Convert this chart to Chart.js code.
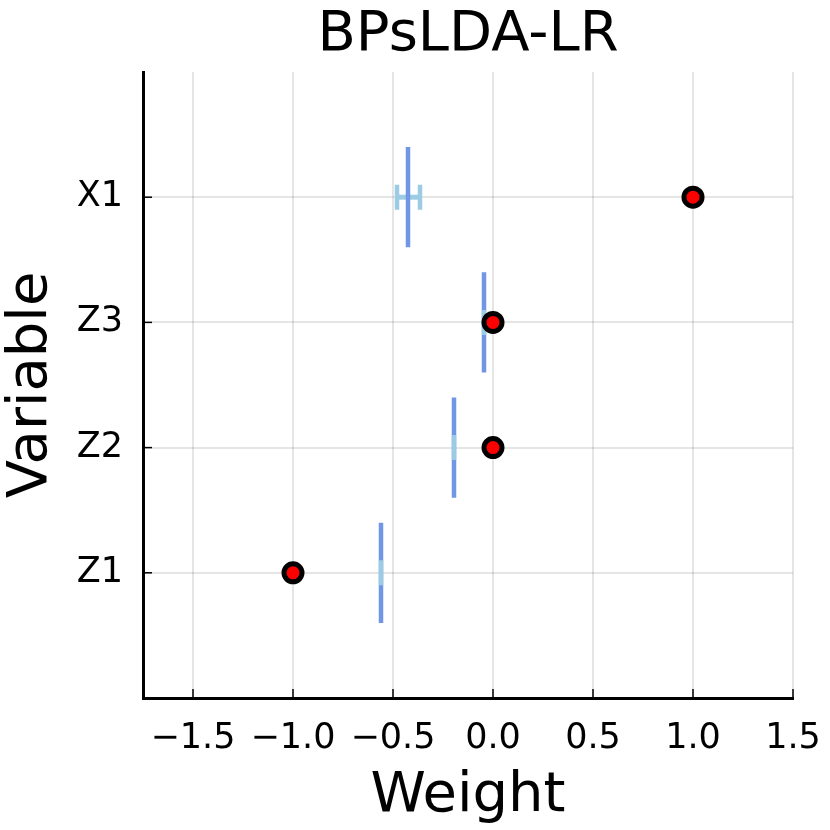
<!DOCTYPE html>
<html lang="en">
<head>
<meta charset="UTF-8">
<title>BPsLDA-LR</title>
<script src="https://cdn.jsdelivr.net/npm/chart.js@4"></script>
<style>
  html, body { margin: 0; padding: 0; background: #fff; }
  canvas { display: block; }
</style>
</head>
<body>
<canvas id="weights" width="830" height="830"></canvas>
<script>
// variables, bottom to top
const categories = ['Z1', 'Z2', 'Z3', 'X1'];
// true weights (red dots)
const trueWeight = [-1.0, 0.0, 0.0, 1.0];
// estimated weights and their interval
const estWeight = [-0.56, -0.195, -0.045, -0.425];
const estLow = [-0.56, -0.195, -0.045, -0.48];
const estHigh = [-0.56, -0.195, -0.045, -0.365];
const xTicks = [-1.5, -1.0, -0.5, 0.0, 0.5, 1.0, 1.5];

const FONT = 'DejaVu Sans';
const LINE_HALF = 0.4;   // half height of the estimate bar, in category units
const CAP_HALF = 0.1;    // half height of the interval caps
const gap = { x: null, y: null };

const estLines = categories.flatMap((c, i) => [
    { x: estWeight[i], y: i + 1 - LINE_HALF },
    { x: estWeight[i], y: i + 1 + LINE_HALF },
    gap
]);
const intervalBars = categories.flatMap((c, i) => [
    { x: estLow[i], y: i + 1 },
    { x: estHigh[i], y: i + 1 },
    gap
]);
const intervalCaps = categories.flatMap((c, i) => [
    { x: estLow[i], y: i + 1 - CAP_HALF },
    { x: estLow[i], y: i + 1 + CAP_HALF },
    gap,
    { x: estHigh[i], y: i + 1 - CAP_HALF },
    { x: estHigh[i], y: i + 1 + CAP_HALF },
    gap
]);
const truePoints = categories.map((c, i) => ({ x: trueWeight[i], y: i + 1 }));

function fmt(v) {
    return (v < 0 ? '\u2212' : '') + Math.abs(v).toFixed(1);
}

// small black ticks pointing into the plot
const inwardTicks = {
    id: 'inwardTicks',
    afterDraw(chart) {
        const ctx = chart.ctx;
        const area = chart.chartArea;
        ctx.save();
        ctx.strokeStyle = '#000';
        ctx.lineWidth = 1.5;
        chart.scales.x.ticks.forEach(t => {
            const px = chart.scales.x.getPixelForValue(t.value);
            ctx.beginPath();
            ctx.moveTo(px, area.bottom);
            ctx.lineTo(px, area.bottom - 9);
            ctx.stroke();
        });
        chart.scales.y.ticks.forEach(t => {
            const py = chart.scales.y.getPixelForValue(t.value);
            ctx.beginPath();
            ctx.moveTo(area.left, py);
            ctx.lineTo(area.left + 9, py);
            ctx.stroke();
        });
        ctx.restore();
    }
};

new Chart(document.getElementById('weights'), {
    type: 'scatter',
    data: {
        datasets: [
            {
                label: 'true',
                data: truePoints,
                pointRadius: 9,
                pointBorderWidth: 5,
                pointBackgroundColor: '#ff0000',
                pointBorderColor: '#000000'
            },
            {
                label: 'caps',
                data: intervalCaps,
                showLine: true,
                pointRadius: 0,
                borderWidth: 4.5,
                borderColor: 'rgb(155,204,228)',
                borderCapStyle: 'butt'
            },
            {
                label: 'estimate',
                data: estLines,
                showLine: true,
                pointRadius: 0,
                borderWidth: 4.5,
                borderColor: 'rgb(114,150,230)',
                borderCapStyle: 'butt'
            },
            {
                label: 'interval',
                data: intervalBars,
                showLine: true,
                pointRadius: 0,
                borderWidth: 5,
                borderColor: 'rgb(155,204,228)',
                borderCapStyle: 'butt'
            }
        ]
    },
    options: {
        responsive: false,
        animation: false,
        devicePixelRatio: 1,
        layout: { padding: { left: 0, right: 37, top: 0, bottom: 0 } },
        plugins: {
            legend: { display: false },
            tooltip: { enabled: false },
            title: {
                display: true,
                fullSize: false,
                text: 'BPsLDA-LR',
                color: '#000',
                font: { family: FONT, size: 56, weight: 'normal', lineHeight: 1 },
                padding: { top: 7, bottom: 9 }
            }
        },
        scales: {
            x: {
                type: 'linear',
                min: -1.75,
                max: 1.5,
                afterBuildTicks: s => { s.ticks = xTicks.map(v => ({ value: v })); },
                afterFit: s => {
                    s.height = 132;
                    s.paddingLeft = 0;
                    s.paddingRight = 0;
                },
                ticks: {
                    callback: v => fmt(v),
                    color: '#000',
                    font: { family: FONT, size: 35 },
                    padding: 20,
                    maxRotation: 0,
                    autoSkip: false
                },
                grid: { color: 'rgba(0,0,0,0.1)', lineWidth: 2, drawTicks: false },
                border: { color: '#000', width: 3 },
                title: {
                    display: true,
                    text: 'Weight',
                    color: '#000',
                    font: { family: FONT, size: 56, lineHeight: 1 },
                    padding: { top: 0, bottom: 6 }
                }
            },
            y: {
                type: 'linear',
                min: 0,
                max: 5,
                afterBuildTicks: s => { s.ticks = categories.map((c, i) => ({ value: i + 1 })); },
                afterFit: s => {
                    s.width = 143;
                    s.paddingTop = 0;
                    s.paddingBottom = 0;
                },
                ticks: {
                    callback: v => categories[v - 1],
                    color: '#000',
                    font: { family: FONT, size: 35 },
                    padding: 20,
                    autoSkip: false
                },
                grid: { color: 'rgba(0,0,0,0.1)', lineWidth: 2, drawTicks: false },
                border: { color: '#000', width: 3 },
                title: {
                    display: true,
                    text: 'Variable',
                    color: '#000',
                    font: { family: FONT, size: 56, lineHeight: 1 },
                    padding: { top: 3, bottom: 0 }
                }
            }
        }
    },
    plugins: [inwardTicks]
});
</script>
</body>
</html>
